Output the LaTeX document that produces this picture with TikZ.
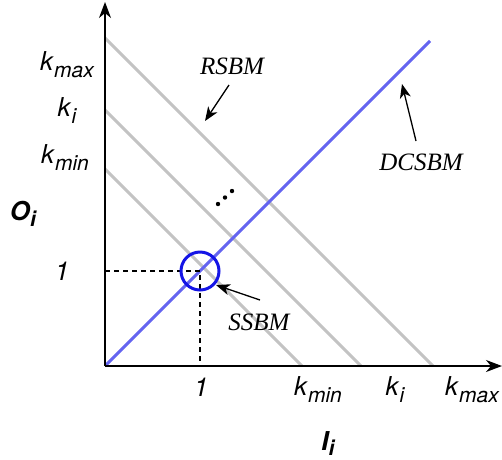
\documentclass[tikz,border=0pt]{standalone}
\usepackage{fontspec}
\setsansfont{TeX Gyre Heros}
\setmainfont{Liberation Serif}
\usetikzlibrary{arrows.meta}
\definecolor{diagblue}{RGB}{100,100,240}
\definecolor{circblue}{RGB}{20,20,230}
\definecolor{lightgray}{RGB}{195,195,195}
\newcommand{\kk}[1]{\textit{k}\raisebox{-0.28em}{\fontsize{21}{21}\selectfont\itshape #1}}
\tikzset{
  axis/.style={line width=1.3pt, -{Stealth[length=16pt,width=12pt,inset=5pt]}},
  kline/.style={lightgray, line width=3pt},
  dline/.style={diagblue, line width=3pt},
  tick/.style={font=\sffamily\fontsize{26}{26}\selectfont, anchor=base, inner sep=0pt},
  axlab/.style={font=\sffamily\bfseries\itshape\fontsize{26}{26}\selectfont, anchor=base, inner sep=0pt},
  model/.style={font=\itshape\fontsize{25}{25}\selectfont, inner sep=0pt},
  note/.style={line width=1.3pt, -{Stealth[length=14pt,width=11pt,inset=4pt]}}
}
\begin{document}
\begin{tikzpicture}[x=1pt,y=-1pt]
\useasboundingbox (0,0) rectangle (502,459);
\coordinate (O) at (105,366);
\coordinate (ytop) at (105,2);
\coordinate (xend) at (502,366);
% gray lines
\coordinate (kmaxY) at (105,38);  \coordinate (kmaxX) at (433,366);
\coordinate (kiY) at (105,110);   \coordinate (kiX) at (361,366);
\coordinate (kminY) at (105,169); \coordinate (kminX) at (302,366);
\draw[kline] (kmaxY) -- (kmaxX);
\draw[kline] (kiY) -- (kiX);
\draw[kline] (kminY) -- (kminX);
% blue diagonal
\coordinate (dtop) at (430,41);
\draw[dline] (O) -- (dtop);
% dashed
\coordinate (one) at (200,271);
\coordinate (oneY) at (105,271);
\coordinate (oneX) at (200,366);
\draw[line width=1.1pt, dash pattern=on 5pt off 4pt] (oneY) -- (one) -- (oneX);
% axes
\draw[axis] (O) -- (ytop);
\draw[axis] (O) -- (xend);
% circle
\node[circle, draw=circblue, line width=3pt, minimum size=38pt, inner sep=0pt] (circ) at (one) {};
% dots
\fill (218,204) circle (2.2pt);
\fill (225,197.5) circle (2.2pt);
\fill (232,191) circle (2.2pt);
% tick labels
\node[tick] (ymax) at (67,70) {\kk{max}};
\node[tick] (yi) at (67,116) {\kk{i}};
\node[tick] (ymin) at (65,163) {\kk{min}};
\node[tick] (y1) at (62,280) {\textit{1}};
\node[tick] (x1) at (201,396) {\textit{1}};
\node[tick] (xmin) at (318,395) {\kk{min}};
\node[tick] (xi) at (395,395) {\kk{i}};
\node[tick] (xmax) at (472,395) {\kk{max}};
\node[axlab] (Oi) at (23,220) {O\raisebox{-0.25em}{\fontsize{21}{21}\selectfont i}};
\node[axlab] (Ii) at (328,450) {I\raisebox{-0.2em}{\fontsize{21}{21}\selectfont i}};
% model labels
\node[model] (rsbm) at (232,66) {RSBM};
\node[model] (dcsbm) at (421,162) {DCSBM};
\node[model] (ssbm) at (259,322) {SSBM};
\coordinate (rsbmS) at (229,85);   \coordinate (rsbmT) at (205,121);
\coordinate (dcsbmS) at (416,141); \coordinate (dcsbmT) at (402,84);
\coordinate (ssbmS) at (260,300);  \coordinate (ssbmT) at (216,285);
\draw[note] (rsbmS) -- (rsbmT);
\draw[note] (dcsbmS) -- (dcsbmT);
\draw[note] (ssbmS) -- (ssbmT);
\end{tikzpicture}
\end{document}
